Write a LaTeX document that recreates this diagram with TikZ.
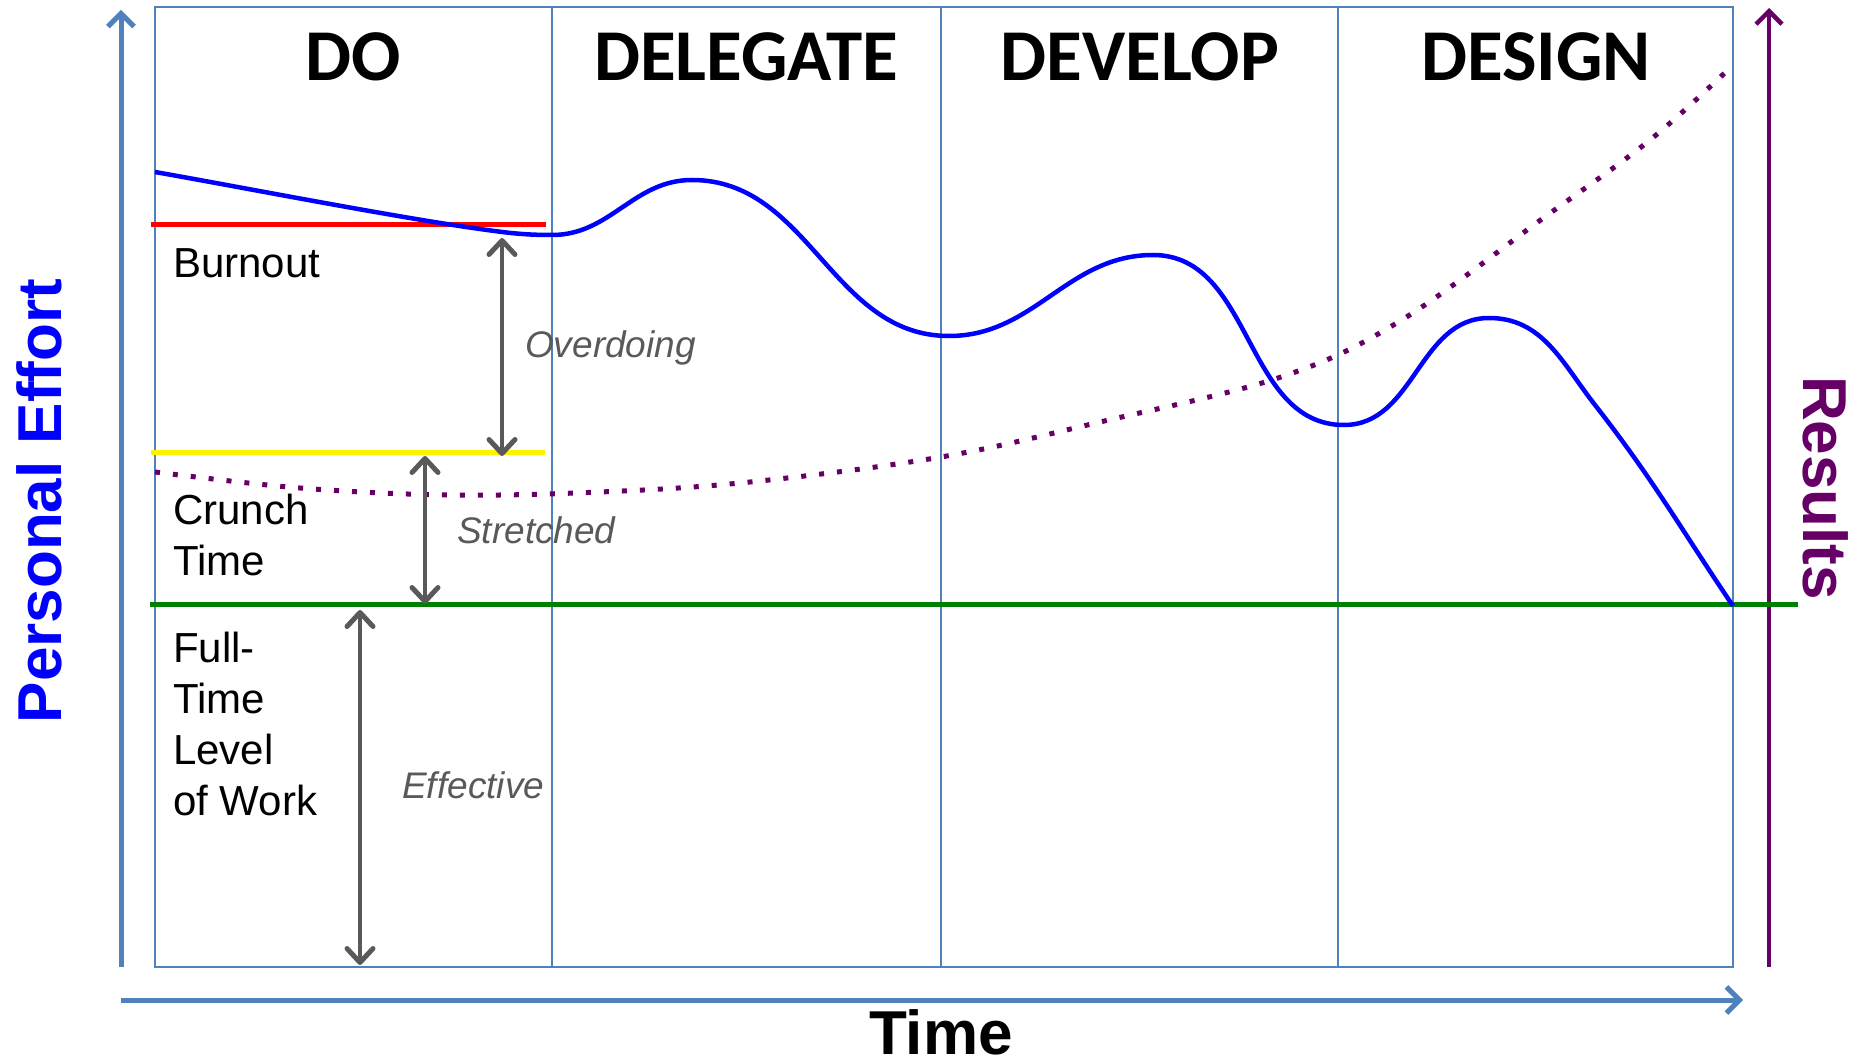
\documentclass[tikz,border=0pt]{standalone}
\usepackage{fontspec}
\setmainfont{Liberation Sans}
\newfontfamily\phasefont{Carlito}
\usetikzlibrary{arrows.meta, positioning}

\definecolor{axisblue}{HTML}{4F81BD}
\definecolor{resultpurple}{HTML}{660066}
\definecolor{markgray}{HTML}{595959}
\definecolor{fullgreen}{HTML}{008000}

\begin{document}
\begin{tikzpicture}[
    x=1pt, y=-1pt,
    frame/.style={draw=axisblue, line width=2pt},
    axis/.style={draw=axisblue, line width=5pt, -{Straight Barb[length=13pt, width=26pt]}},
    result axis/.style={draw=resultpurple, line width=4.5pt, -{Straight Barb[length=13pt, width=26pt]}},
    level/.style={line width=5pt},
    span/.style={draw=markgray, line width=4pt, {Straight Barb[length=14pt, width=26pt, round, line width=5pt]}-{Straight Barb[length=14pt, width=26pt, round, line width=5pt]}},
    phase/.style={inner sep=0pt, font=\phasefont\fontsize{73}{73}\selectfont\bfseries},
    axis label/.style={inner sep=0pt, font=\fontsize{62}{62}\selectfont\bfseries},
    level label/.style={anchor=west, inner sep=0pt, align=left, font=\fontsize{42}{51}\selectfont},
    span label/.style={anchor=west, inner sep=0pt, text=markgray, font=\fontsize{37}{37}\selectfont\itshape}
]
\useasboundingbox (0,0) rectangle (1860,1064);

% Frame and phases
\coordinate (frame nw) at (155,7);
\coordinate (frame se) at (1733,967);
\draw[frame] (frame nw) rectangle (frame se);
\draw[frame] (552,7) -- (552,967);
\draw[frame] (941,7) -- (941,967);
\draw[frame] (1338,7) -- (1338,967);

\node[phase] (do) at (353,57) {DO};
\node[phase] (delegate) at (746,57) {DELEGATE};
\node[phase] (develop) at (1140,57) {DEVELOP};
\node[phase] (design) at (1536,57) {DESIGN};

% Axes
\coordinate (origin) at (121,967);
\coordinate (effort top) at (121,10);
\coordinate (time start) at (121,1000);
\coordinate (time end) at (1743,1000);
\coordinate (result base) at (1769,967);
\coordinate (result top) at (1769,8);
\draw[axis] (origin) -- (effort top);
\draw[axis] (time start) -- (time end);
\draw[result axis] (result base) -- (result top);

\node[axis label, text=blue, rotate=90] (effort) at (39,501) {Personal Effort};
\node[axis label] (time) at (941,1032) {Time};
\node[axis label, text=resultpurple, rotate=-90] (results) at (1826,488) {Results};

% Levels
\draw[level, red] (151,225) -- (546,225);
\draw[level, yellow] (151,452) -- (545,452);
\draw[level, fullgreen] (150,604) -- (1798,604);

\node[level label] (burnout) at (173,263) {Burnout};
\node[level label] (crunch) at (173,535) {Crunch\\Time};
\node[level label] (fulltime) at (173,724) {Full-\\Time\\Level\\of Work};

% Results curve
\draw[resultpurple, line width=5pt, dash pattern=on 5pt off 13pt]
    plot[smooth, tension=0.6] coordinates {(155,472) (300,488) (450,495) (600,492) (750,482)
    (941,457) (1100,422) (1281,377) (1400,321) (1542,219) (1650,140) (1733,65)};

% Effort curve
\draw[blue, line width=4.5pt] (155,172)
    to[out=-10, in=172, looseness=0.7] (480,229)
    to[out=-8, in=180] (552,235)
    to[out=0, in=180] (692,180)
    to[out=0, in=180] (949,336)
    to[out=0, in=180] (1153,255)
    to[out=0, in=180] (1344,425)
    to[out=0, in=180] (1489,318)
    to[out=0, in=128] (1595,405)
    to[out=-52, in=124] (1733,606);

% Spans
\coordinate (over top) at (502,238);
\coordinate (over bot) at (502,456);
\coordinate (stretch top) at (425,456);
\coordinate (stretch bot) at (425,604);
\coordinate (eff top) at (360,610);
\coordinate (eff bot) at (360,965);
\draw[span] (over top) -- (over bot);
\draw[span] (stretch top) -- (stretch bot);
\draw[span] (eff top) -- (eff bot);

\node[span label] (overdoing) at (525,348) {Overdoing};
\node[span label] (stretched) at (457,530) {Stretched};
\node[span label] (effective) at (402,785) {Effective};

\end{tikzpicture}
\end{document}
